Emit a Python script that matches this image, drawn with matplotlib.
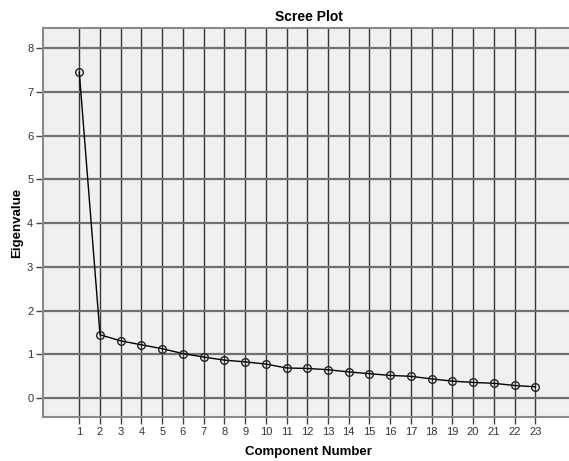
import matplotlib
matplotlib.use("Agg")
import matplotlib.pyplot as plt

components = list(range(1, 24))
eigenvalues = [7.45, 1.45, 1.31, 1.22, 1.13, 1.02, 0.94, 0.87, 0.83, 0.78,
               0.69, 0.68, 0.65, 0.60, 0.56, 0.52, 0.50, 0.44, 0.39, 0.36,
               0.34, 0.29, 0.26]
y_ticks = [0, 1, 2, 3, 4, 5, 6, 7, 8]

plt.rcParams['font.family'] = ['Arial', 'Liberation Sans', 'DejaVu Sans']

fig = plt.figure(figsize=(5.69, 4.61), dpi=100)
ax = fig.add_axes([43/569, 44/461, 1 - 43/569 + 0.01, (417-28)/461])
ax.set_facecolor('#f0f0f0')

ax.set_xlim(-0.75, 24.9)
ax.set_ylim(-0.43, 8.46)

ax.set_xticks(components)
ax.set_xticklabels([str(c) for c in components])
ax.set_yticks(y_ticks)
ax.set_yticklabels([str(v) for v in y_ticks])

for c in components:
    ax.axvline(c, color='#363636', lw=1.0, zorder=1)
for v in y_ticks:
    ax.axhline(v, color='#707070', lw=1.6, zorder=1)

ax.plot(components, eigenvalues, color='black', lw=1.0, zorder=3,
        marker='o', markersize=5.5, markerfacecolor='none',
        markeredgecolor='#222222', markeredgewidth=1.0)

for side in ['top', 'left', 'bottom']:
    ax.spines[side].set_color('#8a8a8a')
    ax.spines[side].set_linewidth(1.5)
ax.spines['right'].set_visible(False)

ax.tick_params(axis='both', which='major', length=5, width=1.0,
               color='#444444', labelsize=8, labelcolor='#333333', pad=2)

ax.set_title('Scree Plot', fontsize=10, fontweight='bold', pad=5)
ax.set_xlabel('Component Number', fontsize=9.5, fontweight='bold', labelpad=7)
ax.set_ylabel('Eigenvalue', fontsize=9.5, fontweight='bold', labelpad=3)

fig.savefig('out.png', dpi=100)
